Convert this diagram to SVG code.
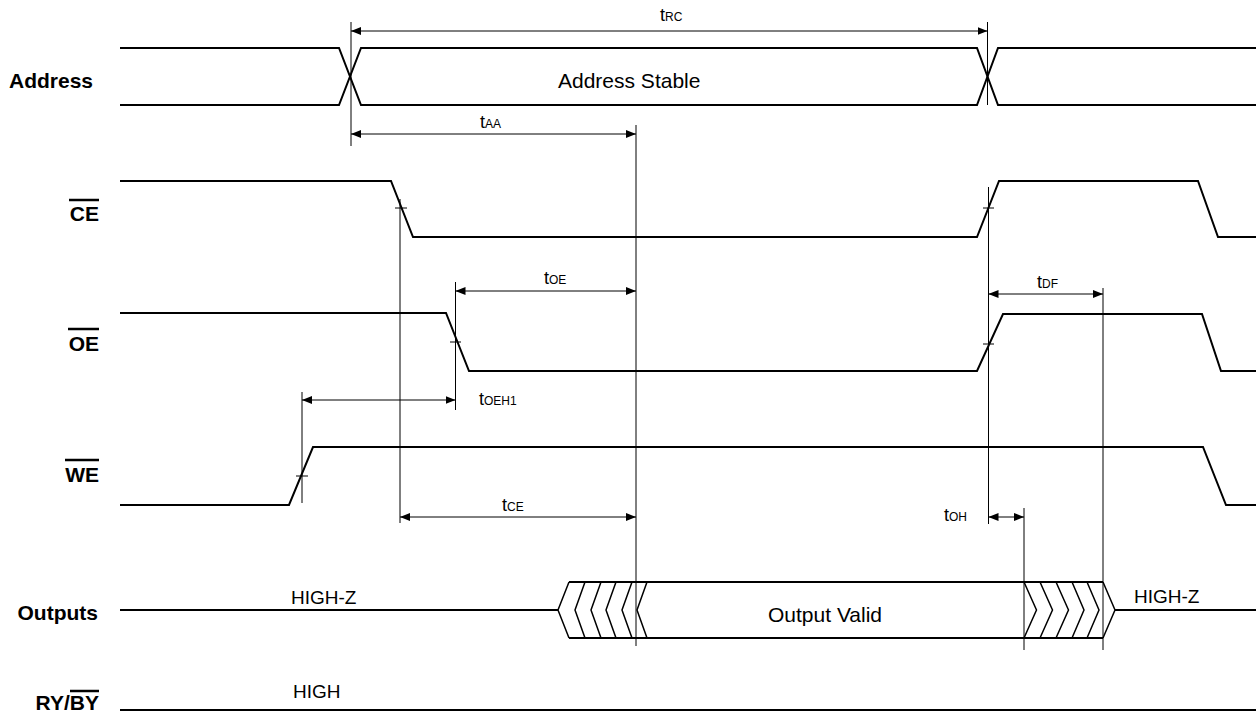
<svg xmlns="http://www.w3.org/2000/svg" width="1256" height="715" viewBox="0 0 1256 715">
<style>
.sig{fill:none;stroke:#000;stroke-width:2;stroke-linejoin:miter}
.hatch{fill:none;stroke:#000;stroke-width:1.5}
.thin{fill:none;stroke:#000;stroke-width:1}
.dim{fill:none;stroke:#000;stroke-width:1;marker-start:url(#a);marker-end:url(#a)}
.lbl{font-family:"Liberation Sans",Arial,sans-serif;font-weight:bold;font-size:21px;fill:#000}
.txt{font-family:"Liberation Sans",Arial,sans-serif;font-size:21px;fill:#000}
.hz{font-family:"Liberation Sans",Arial,sans-serif;font-size:19px;fill:#000}
.tm{font-family:"Liberation Sans",Arial,sans-serif;font-size:18px;fill:#000}
.sub{font-size:12px}
.ov{stroke:#000;stroke-width:2.5}
</style>
<defs>
<marker id="a" viewBox="0 0 10 8" refX="10" refY="4" markerWidth="10" markerHeight="8" markerUnits="userSpaceOnUse" orient="auto-start-reverse"><path d="M0,0 L10,4 L0,8 Z"/></marker>
</defs>
<rect width="1256" height="715" fill="#fff"/>

<g id="address">
<text class="lbl" x="9" y="88">Address</text>
<path class="sig" d="M120,48 H339 L361,105 H977 L998,48 H1256"/>
<path class="sig" d="M120,105 H339 L361,48 H977 L998,105 H1256"/>
<text class="txt" x="558" y="88">Address Stable</text>
</g>

<g id="ce">
<text class="lbl" x="99" y="221" text-anchor="end">CE</text>
<line class="ov" x1="69" y1="200" x2="99" y2="200"/>
<path class="sig" d="M120,181 H391 L413,237 H977 L999,181 H1198 L1218,237 H1256"/>
<path class="thin" d="M395,208 H407 M983,208 H994"/>
</g>

<g id="oe">
<text class="lbl" x="99" y="351" text-anchor="end">OE</text>
<line class="ov" x1="68" y1="329" x2="99" y2="329"/>
<path class="sig" d="M120,313 H446 L469,371 H977 L1003,314 H1202 L1221,371 H1256"/>
<path class="thin" d="M450,342 H461 M983,344 H994"/>
</g>

<g id="we">
<text class="lbl" x="99" y="482" text-anchor="end">WE</text>
<line class="ov" x1="65" y1="460" x2="99" y2="460"/>
<path class="sig" d="M120,505 H289 L313,447 H1203 L1226,505 H1256"/>
<path class="thin" d="M296,476 H308"/>
</g>

<g id="outputs">
<text class="lbl" x="98" y="620" text-anchor="end">Outputs</text>
<path class="sig" d="M120,610 H558"/>
<path class="sig" d="M569,582 H1103 M569,638 H1103"/>
<path class="hatch" d="M569,582 L558,610 L569,638 M585,582 L575,610 L585,638 M601,582 L591,610 L601,638 M616,582 L606,610 L616,638 M632,582 L622,610 L632,638 M647,582 L637,610 L647,638"/>
<path class="hatch" d="M1024,582 L1036.5,610 L1024,638 M1040,582 L1052.5,610 L1040,638 M1056,582 L1068.5,610 L1056,638 M1072,582 L1084,610 L1072,638 M1087,582 L1099,610 L1087,638 M1103,582 L1115,610 L1103,638"/>
<path class="sig" d="M1115,610 H1256"/>
<text class="hz" x="291" y="604">HIGH-Z</text>
<text class="txt" x="768" y="622">Output Valid</text>
<text class="hz" x="1134" y="603">HIGH-Z</text>
</g>

<g id="ryby">
<text class="lbl" x="99" y="710" text-anchor="end">RY/BY</text>
<line class="ov" x1="70" y1="691" x2="99" y2="691"/>
<path class="sig" d="M120,710 H1256"/>
<text class="hz" x="293" y="698">HIGH</text>
</g>

<g id="connectors">
<path class="thin" d="M351,22 V146 M987.5,22 V105 M636,125 V646 M400,199 V523 M455.5,282 V410 M302,392 V503 M988.5,187 V524 M1103,288 V650 M1024,508 V650"/>
<path class="dim" d="M351,31 H987.5"/>
<path class="dim" d="M351,134 H636"/>
<path class="dim" d="M455.5,291 H636"/>
<path class="dim" d="M302,400 H455.5"/>
<path class="dim" d="M400,517 H636"/>
<path class="dim" d="M988.5,294 H1103"/>
<path class="dim" d="M988.5,517 H1024"/>
<text class="tm" x="660" y="21">t<tspan class="sub">RC</tspan></text>
<text class="tm" x="480" y="128">t<tspan class="sub">AA</tspan></text>
<text class="tm" x="544" y="284">t<tspan class="sub">OE</tspan></text>
<text class="tm" x="479" y="405">t<tspan class="sub">OEH1</tspan></text>
<text class="tm" x="502" y="511">t<tspan class="sub">CE</tspan></text>
<text class="tm" x="1037" y="288">t<tspan class="sub">DF</tspan></text>
<text class="tm" x="944" y="521">t<tspan class="sub">OH</tspan></text>
</g>
</svg>
